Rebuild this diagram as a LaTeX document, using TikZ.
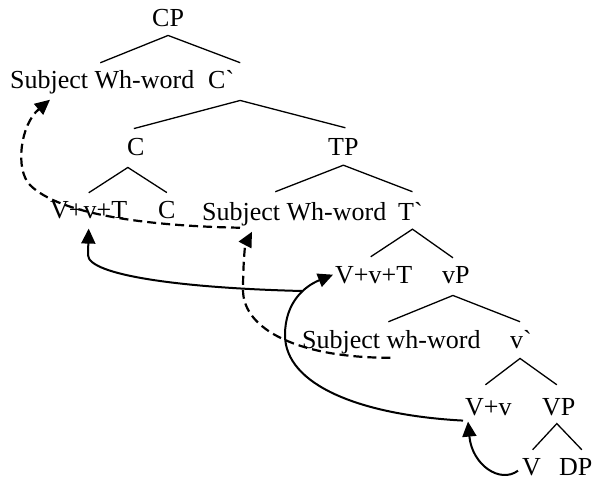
\documentclass[tikz,border=0pt]{standalone}
\usepackage{fontspec}
\setmainfont{Liberation Serif}
\usetikzlibrary{arrows.meta,calc}
\begin{document}
\begin{tikzpicture}[x=1pt,y=-1pt,
  lbl/.style={anchor=base west,inner sep=0pt,font=\fontsize{26}{30}\selectfont},
  branch/.style={line width=1.3pt},
  move/.style={line width=2pt,-{Triangle[length=15pt,width=14pt]}},
  trace/.style={move,line width=2.2pt,dash pattern=on 9pt off 5pt}]
\fill[white] (0,0) rectangle (593,481);
\useasboundingbox (0,0) rectangle (593,481);

% labels of the tree
\node[lbl] (CP)    at (152,27)  {CP};
\node[lbl] (SW1)   at (10,89)   {Subject Wh-word};
\node[lbl] (Cb)    at (208,89)  {C\textasciigrave};
\node[lbl] (C1)    at (127,155) {C};
\node[lbl] (TP)    at (328,155) {TP};
\node[lbl] (VvT1)  at (50,218)  {V+v+T};
\node[lbl] (C2)    at (158,218) {C};
\node[lbl] (SW2)   at (202,220) {Subject Wh-word};
\node[lbl] (Tb)    at (398,220) {T\textasciigrave};
\node[lbl] (VvT2)  at (335,283) {V+v+T};
\node[lbl] (vP)    at (442,283) {vP};
\node[lbl] (SW3)   at (302,348) {Subject wh-word};
\node[lbl] (vb)    at (510,348) {v\textasciigrave};
\node[lbl] (Vv)    at (465,415) {V+v};
\node[lbl] (VP)    at (542,415) {VP};
\node[lbl] (V)     at (522,475) {V};
\node[lbl] (DP)    at (559,475) {DP};

% branches
\draw[branch] ($(SW1.north)+(-2,-8)$) -- ($(CP.south)+(0,8)$) -- ($(Cb.north)+(19,-8)$);
\draw[branch] ($(C1.north)+(-2,-9)$) -- ($(Cb.south)+(19,11)$) -- ($(TP.north)+(2,-10)$);
\draw[branch] ($(VvT1.north)+(0,-8)$) -- ($(C1.south)+(-8,12)$) -- ($(C2.north)+(0,-8)$);
\draw[branch] ($(SW2.north)+(-19,-10)$) -- ($(TP.south)+(0,10)$) -- ($(Tb.north)+(2,-10)$);
\draw[branch] ($(VvT2.north)+(-3,-9)$) -- ($(Tb.south)+(2,9)$) -- ($(vP.north)+(-3,-8)$);
\draw[branch] ($(SW3.north)+(-3,-8)$) -- ($(vP.south)+(-3,12)$) -- ($(vb.north)+(-1,-8)$);
\draw[branch] ($(Vv.north)+(-3,-13)$) -- ($(vb.south)+(-1,10)$) -- ($(VP.north)+(-2,-13)$);
\draw[branch] ($(V.north)+(1,-8)$) -- ($(VP.south)+(-2,8)$) -- ($(DP.north)+(6,-8)$);

% head movement
\coordinate (join) at (302,291);
\draw[move] ($(V.west)+(-4,4)$) .. controls (500,484) and (472,465) .. ($(Vv.south west)+(3,6)$);
\draw[move] ($(Vv.south west)+(-2,5)$) .. controls (360,415) and (285,385) .. (285,335)
  .. controls (285,302) and (305,286) .. ($(VvT2.west)+(-2,0)$);
\draw[move] (join) .. controls (180,288) and (88,275) .. (88,255) -- ($(VvT1.south)+(0,10)$);

% wh-movement
\draw[trace] ($(SW3.south)+(-1,4)$) .. controls (300,358) and (243,330) .. (243,290)
  .. controls (243,265) and (245,245) .. ($(SW2.south west)+(50,6)$);
\draw[trace] ($(SW2.south west)+(38,2)$) .. controls (150,226) and (60,215) .. (30,185)
  .. controls (15,170) and (20,125) .. ($(SW1.south west)+(40,5)$);
\end{tikzpicture}
\end{document}
